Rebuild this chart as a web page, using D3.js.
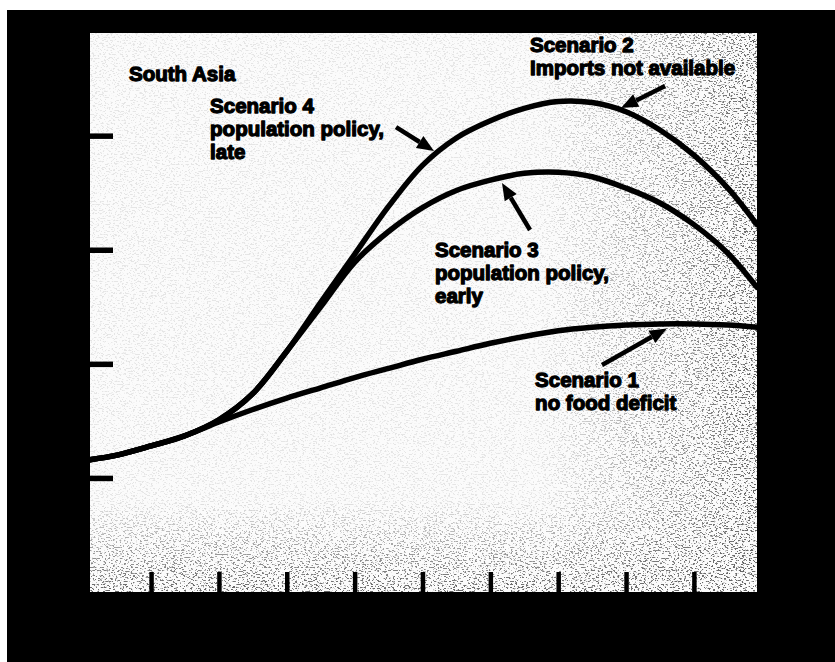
<!DOCTYPE html>
<html><head><meta charset="utf-8">
<script src="https://cdn.jsdelivr.net/npm/d3@7"></script>
<style>html,body{margin:0;padding:0;background:#fff;overflow:hidden}</style>
</head><body><svg id="c" width="835" height="662"></svg>
<script>
// ---- data (units) ----
const xValues      = [0.1, 0.5, 1, 1.5, 2, 2.5, 3, 3.5, 4, 4.5, 5, 5.5, 6, 6.5, 7, 7.5, 8, 8.5, 9, 9.5, 9.93];
const scenario1    = [1.16, 1.20, 1.28, 1.37, 1.49, 1.60, 1.70, 1.79, 1.88, 1.96, 2.04, 2.11, 2.18, 2.24, 2.29, 2.32, 2.34, 2.35, 2.35, 2.34, 2.32];
const scenario2and4= [1.16, 1.20, 1.28, 1.37, 1.51, 1.74, 2.11, 2.54, 2.96, 3.38, 3.74, 3.98, 4.13, 4.24, 4.30, 4.29, 4.21, 4.05, 3.83, 3.54, 3.22];
const scenario3    = [1.16, 1.20, 1.28, 1.37, 1.51, 1.74, 2.11, 2.50, 2.89, 3.16, 3.37, 3.52, 3.61, 3.67, 3.68, 3.64, 3.54, 3.41, 3.22, 2.97, 2.67];
const xTicks = [1, 2, 3, 4, 5, 6, 7, 8, 9];
const yTicks = [1, 2, 3, 4];
const title = {text: "South Asia", x: 0.675, y: 4.48};
const labelTexts = [
  ["Scenario 4", "population policy,", "late"],
  ["Scenario 2", "Imports not available"],
  ["Scenario 3", "population policy,", "early"],
  ["Scenario 1", "no food deficit"]
];
const labelAnchors = [[1.87, 4.20], [6.585, 4.733], [5.185, 2.936], [6.66, 1.797]];
const arrowTails = [[4.61, 4.075], [8.575, 4.435], [6.585, 3.173], [7.646, 1.990]];
const arrowTips  = [[5.17, 3.865], [7.926, 4.242], [6.172, 3.585], [8.60, 2.310]];

// ---- layout ----
const W = 835, H = 662;
const plot = {left: 90, right: 757, top: 33, bottom: 592};
const svg = d3.select("#c");
const x = d3.scaleLinear().domain([0.1, 9.93]).range([plot.left, plot.right]);
const y = d3.scaleLinear().domain([0, 4.9]).range([plot.bottom, plot.top]);

// page & black frame
svg.append("rect").attr("width", W).attr("height", H).attr("fill", "#fff");
svg.append("rect").attr("x", 7).attr("y", 10).attr("width", W - 7).attr("height", H - 10).attr("fill", "#000");
svg.append("rect").attr("x", plot.left).attr("y", plot.top)
  .attr("width", plot.right - plot.left).attr("height", plot.bottom - plot.top).attr("fill", "#fbfbfb");

// scan grain texture (decoration)
const defs = svg.append("defs");
const flt = defs.append("filter").attr("id", "grain").attr("filterUnits", "userSpaceOnUse")
  .attr("x", plot.left).attr("y", plot.top).attr("width", plot.right - plot.left).attr("height", plot.bottom - plot.top);
flt.append("feTurbulence").attr("type", "fractalNoise").attr("baseFrequency", "0.45 0.7")
  .attr("numOctaves", 2).attr("seed", 7);
flt.append("feColorMatrix").attr("type", "matrix")
  .attr("values", "0 0 0 0 0  0 0 0 0 0  0 0 0 0 0  -11 0 0 0 4.9");
const gR = defs.append("linearGradient").attr("id", "gR").attr("gradientUnits", "userSpaceOnUse")
  .attr("x1", 540).attr("x2", plot.right).attr("y1", 0).attr("y2", 0);
gR.append("stop").attr("offset", 0).attr("stop-color", "#fff").attr("stop-opacity", 0);
gR.append("stop").attr("offset", 1).attr("stop-color", "#fff").attr("stop-opacity", 1);
const gB = defs.append("linearGradient").attr("id", "gB").attr("gradientUnits", "userSpaceOnUse")
  .attr("x1", 0).attr("x2", 0).attr("y1", 500).attr("y2", plot.bottom);
gB.append("stop").attr("offset", 0).attr("stop-color", "#fff").attr("stop-opacity", 0);
gB.append("stop").attr("offset", 1).attr("stop-color", "#fff").attr("stop-opacity", 1);
const mask = defs.append("mask").attr("id", "gm").attr("maskUnits", "userSpaceOnUse")
  .attr("x", 0).attr("y", 0).attr("width", W).attr("height", H);
mask.append("rect").attr("x", plot.left).attr("y", plot.top).attr("width", plot.right - plot.left)
  .attr("height", plot.bottom - plot.top).attr("fill", "#fff").attr("opacity", 0.15);
mask.append("rect").attr("x", plot.left).attr("y", plot.top).attr("width", plot.right - plot.left)
  .attr("height", plot.bottom - plot.top).attr("fill", "url(#gR)");
mask.append("rect").attr("x", plot.left).attr("y", plot.top).attr("width", plot.right - plot.left)
  .attr("height", plot.bottom - plot.top).attr("fill", "url(#gB)");
svg.append("rect").attr("x", plot.left).attr("y", plot.top)
  .attr("width", plot.right - plot.left).attr("height", plot.bottom - plot.top)
  .attr("filter", "url(#grain)").attr("mask", "url(#gm)").attr("opacity", 0.6);

// axes (inward ticks, no labels)
const yAxis = svg.append("g").attr("transform", `translate(${plot.left},0)`)
  .call(d3.axisLeft(y).tickValues(yTicks).tickSize(-23).tickFormat(""));
yAxis.select(".domain").remove();
yAxis.selectAll(".tick line").attr("stroke", "#000").attr("stroke-width", 5.5);
const xAxis = svg.append("g").attr("transform", `translate(0,${plot.bottom})`)
  .call(d3.axisBottom(x).tickValues(xTicks).tickSize(-20).tickFormat(""));
xAxis.select(".domain").remove();
xAxis.selectAll(".tick line").attr("stroke", "#000").attr("stroke-width", 4.5);

// curves
const line = d3.line().x(d => x(d[0])).y(d => y(d[1])).curve(d3.curveCatmullRom.alpha(0.5));
[scenario1, scenario3, scenario2and4].forEach(s => {
  svg.append("path").datum(xValues.map((v, i) => [v, s[i]]))
    .attr("d", line).attr("fill", "none").attr("stroke", "#000")
    .attr("stroke-width", 5.5).attr("stroke-linecap", "round");
});

// text
const font = "'Liberation Sans', Arial, Helvetica, sans-serif";
function txt(str, px, py) {
  svg.append("text").attr("x", px).attr("y", py).text(str)
    .attr("font-family", font).attr("font-weight", 700).attr("font-size", 20.5)
    .attr("fill", "#000").attr("stroke", "#000").attr("stroke-width", 1.3)
    .attr("stroke-linejoin", "round");
}
txt(title.text, x(title.x), y(title.y));
labelTexts.forEach((lines, i) => {
  const [ax, ay] = labelAnchors[i];
  lines.forEach((l, j) => txt(l, x(ax), y(ay) + j * 23));
});

// arrows
arrowTails.forEach((t, i) => {
  const x0 = x(t[0]), y0 = y(t[1]), x1 = x(arrowTips[i][0]), y1 = y(arrowTips[i][1]);
  const ang = Math.atan2(y1 - y0, x1 - x0);
  const hl = 17, hw = 7;
  const bx = x1 - hl * Math.cos(ang), by = y1 - hl * Math.sin(ang);
  svg.append("line").attr("x1", x0).attr("y1", y0).attr("x2", bx).attr("y2", by)
    .attr("stroke", "#000").attr("stroke-width", 4.5);
  const px = -Math.sin(ang), py = Math.cos(ang);
  svg.append("path").attr("fill", "#000")
    .attr("d", `M${x1},${y1}L${bx + hw * px},${by + hw * py}L${bx - hw * px},${by - hw * py}Z`);
});
</script></body></html>
